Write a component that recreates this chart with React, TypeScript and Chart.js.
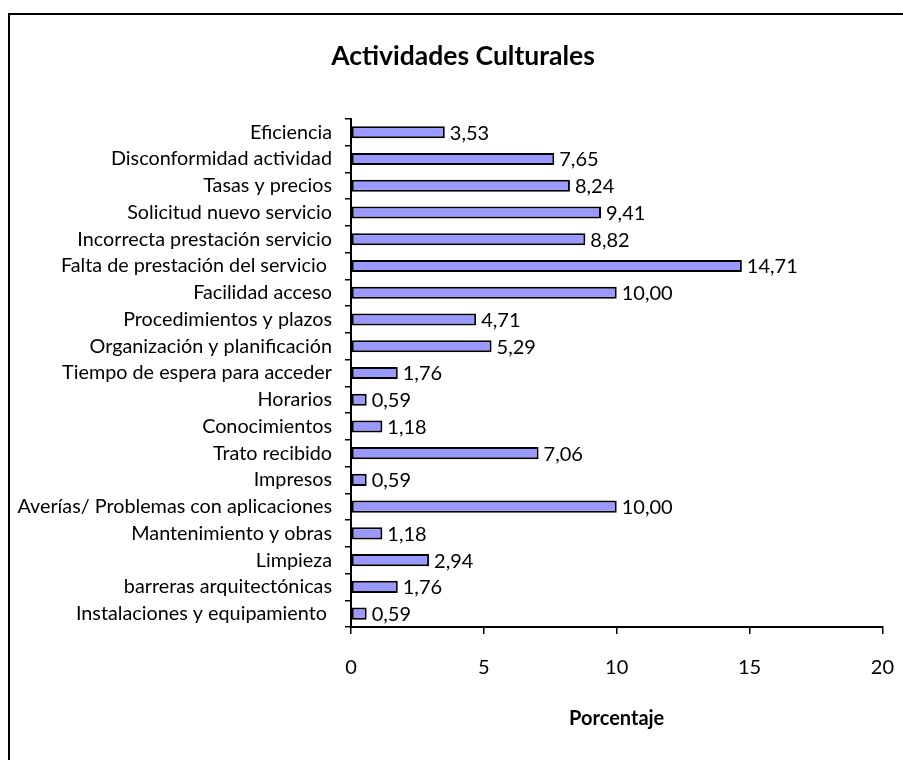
import React, { useEffect, useRef } from "react";
import { Chart, registerables } from "chart.js";

Chart.register(...registerables);

const categories = [
  "Eficiencia",
  "Disconformidad actividad",
  "Tasas y precios",
  "Solicitud nuevo servicio",
  "Incorrecta prestación servicio",
  "Falta de prestación del servicio ",
  "Facilidad acceso",
  "Procedimientos y plazos",
  "Organización y planificación",
  "Tiempo de espera para acceder",
  "Horarios",
  "Conocimientos",
  "Trato recibido",
  "Impresos",
  "Averías/ Problemas con aplicaciones",
  "Mantenimiento y obras",
  "Limpieza",
  "barreras arquitectónicas",
  "Instalaciones y equipamiento ",
];

const percentages = [
  3.53, 7.65, 8.24, 9.41, 8.82, 14.71, 10.0, 4.71, 5.29, 1.76, 0.59, 1.18, 7.06,
  0.59, 10.0, 1.18, 2.94, 1.76, 0.59,
];

const xTicks = [0, 5, 10, 15, 20];

const FONT = "Lato, 'Open Sans', sans-serif";

const valueLabels = {
  id: "valueLabels",
  afterDatasetsDraw(chart: any) {
    const ctx = chart.ctx;
    const meta = chart.getDatasetMeta(0);
    ctx.save();
    ctx.font = `20px ${FONT}`;
    ctx.fillStyle = "#000";
    ctx.textAlign = "left";
    ctx.textBaseline = "middle";
    meta.data.forEach((bar: any, i: number) => {
      const v = percentages[i];
      ctx.fillText(v.toFixed(2).replace(".", ","), bar.x + 5, bar.y + 1);
    });
    ctx.restore();
  },
};

export default function App() {
  const ref = useRef<HTMLCanvasElement>(null);
  useEffect(() => {
    if (!ref.current) return;
    const chart = new Chart(ref.current, {
      type: "bar",
      data: {
        labels: categories,
        datasets: [
          {
            data: percentages,
            backgroundColor: "#9999FF",
            borderColor: "#000",
            borderWidth: 2,
            borderSkipped: false,
            barPercentage: 0.45,
            categoryPercentage: 1,
          },
        ],
      },
      plugins: [valueLabels],
      options: {
        indexAxis: "y",
        animation: false,
        responsive: false,
        maintainAspectRatio: false,
        layout: { padding: 0 },
        plugins: {
          legend: { display: false },
          tooltip: { enabled: false },
          title: {
            display: true,
            text: "Actividades Culturales",
            color: "#000",
            font: { family: FONT, size: 26.5, weight: "bold", lineHeight: 1.2 },
            padding: { top: 26, bottom: 46 },
          },
        },
        scales: {
          x: {
            min: 0,
            max: 20,
            afterBuildTicks(scale: any) {
              scale.ticks = xTicks.map((v) => ({ value: v }));
            },
            afterFit(scale: any) {
              scale.height = 133;
            },
            grid: {
              display: true,
              drawOnChartArea: false,
              drawTicks: true,
              tickLength: 7,
              color: "#000",
              lineWidth: 1.5,
            },
            border: { display: true, color: "#000", width: 2 },
            ticks: {
              color: "#000",
              font: { family: FONT, size: 20 },
              padding: 22,
              maxRotation: 0,
            },
            title: {
              display: true,
              text: "Porcentaje",
              color: "#000",
              font: { family: FONT, size: 20, weight: "bold", lineHeight: 1.2 },
              padding: { top: 0, bottom: 29 },
            },
          },
          y: {
            afterFit(scale: any) {
              scale.width = 351 - 10;
            },
            grid: {
              display: true,
              drawOnChartArea: false,
              drawTicks: true,
              tickLength: 6,
              color: "#000",
              lineWidth: 1.5,
              offset: true,
            },
            border: { display: true, color: "#000", width: 2 },
            ticks: {
              color: "#000",
              font: { family: FONT, size: 19.8 },
              padding: 13,
              autoSkip: false,
            },
          },
        },
      },
    } as any);
    return () => chart.destroy();
  }, []);
  return (
    <div
      style={{
        position: "fixed",
        left: 8,
        top: 13,
        width: 895,
        height: 747,
        borderLeft: "2px solid #000",
        borderTop: "2px solid #000",
        overflow: "hidden",
        background: "#fff",
      }}
    >
      <canvas ref={ref} width={906} height={745} style={{ display: "block" }} />
    </div>
  );
}
